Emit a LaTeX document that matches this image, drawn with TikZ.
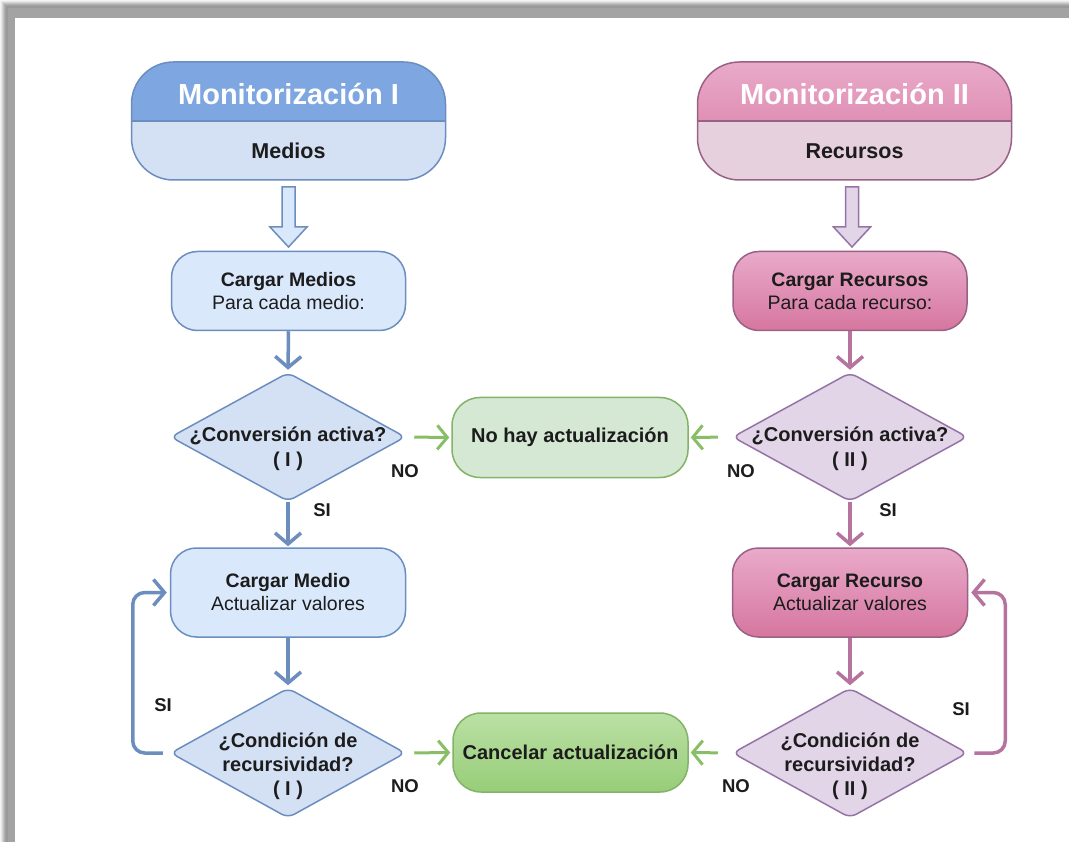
\documentclass[tikz,border=0pt]{standalone}
\usepackage{fontspec}
\setmainfont{Liberation Sans}
\usetikzlibrary{arrows.meta,shapes.geometric,calc}
\definecolor{bBorder}{HTML}{6C8EBF}
\definecolor{bFill}{HTML}{DAE8FC}
\definecolor{bDia}{HTML}{D4E1F5}
\definecolor{bTop}{HTML}{7EA6E0}
\definecolor{bArrow}{HTML}{6C8EBF}
\definecolor{pBorder}{HTML}{996185}
\definecolor{pTopA}{HTML}{E9AACA}
\definecolor{pTopB}{HTML}{D6769F}
\definecolor{pBot}{HTML}{E6D0DE}
\definecolor{vFill}{HTML}{E1D5E7}
\definecolor{vBorder}{HTML}{9673A6}
\definecolor{pArrow}{HTML}{B5739D}
\definecolor{gBorder}{HTML}{82B366}
\definecolor{gFill}{HTML}{D5E8D4}
\definecolor{gTopA}{HTML}{BBE0A5}
\definecolor{gTopB}{HTML}{97CD78}
\definecolor{gArrow}{HTML}{88BF66}
\definecolor{txt}{HTML}{1C1C1C}
\begin{document}
\begin{tikzpicture}[x=1pt,y=-1pt,
  every node/.style={text=txt},
  hdr/.style={draw, line width=1.5pt, rounded corners=42pt, minimum width=314pt, minimum height=118pt, inner sep=0pt},
  boxstyle/.style={draw, line width=1.5pt, rounded corners=26pt, minimum width=234pt, minimum height=79pt, inner sep=0pt, align=center, font=\fontsize{19.5}{23}\selectfont},
  diastyle/.style={diamond, draw, line width=1.5pt, rounded corners=7pt, inner sep=0pt, minimum width=235pt, minimum height=129pt},
  diatext/.style={align=center, font=\fontsize{20}{25}\selectfont\bfseries},
  lbl/.style={font=\fontsize{18.5}{22}\selectfont\bfseries},
  titletext/.style={text=white, font=\fontsize{29}{34}\selectfont\bfseries},
  subtext/.style={font=\fontsize{21.5}{26}\selectfont\bfseries},
  arrB/.style={draw=bArrow, line width=3.5pt, -{Straight Barb[length=11pt,width=26pt]}},
  arrP/.style={draw=pArrow, line width=3.5pt, -{Straight Barb[length=11pt,width=26pt]}},
  arrG/.style={draw=gArrow, line width=3pt, -{Straight Barb[length=10pt,width=24pt]}},
  blk/.style={line width=1.5pt, line join=miter}
]
\useasboundingbox (0,0) rectangle (1069,842);
% frame
\fill[white] (0,0) rectangle (1069,842);
\foreach \i/\c in {0/4,1/9,2/16,3/24,4/31,5/36}{\fill[black!\c] (\i,\i) rectangle (1069,842);}
\fill[black!40] (6,6) rectangle (1069,842);
\fill[black!36] (8,8) rectangle (1069,842);
\fill[white] (15,18) rectangle (1069,842);

% headers
\node[hdr, draw=bBorder, fill=bDia,
  path picture={\fill[bTop, sharp corners] (path picture bounding box.north west) rectangle (path picture bounding box.east);}]
  (h1) at (288.5,121) {};
\draw[bBorder, line width=1.5pt] (h1.west) -- (h1.east);
\node[titletext] (t1) at (288.5,94) {Monitorización I};
\node[subtext] (s1) at (288.5,151) {Medios};

\node[hdr, draw=pBorder, fill=pBot,
  path picture={\shade[top color=pTopA, bottom color=pTopB, sharp corners] (path picture bounding box.north west) rectangle (path picture bounding box.east);}]
  (h2) at (854.5,121) {};
\draw[pBorder, line width=1.5pt] (h2.west) -- (h2.east);
\node[titletext] (t2) at (854.5,94) {Monitorización II};
\node[subtext] (s2) at (854.5,151) {Recursos};

% block arrows
\draw[blk, draw=bBorder, fill=bFill] (282,187) -- (295,187) -- (295,227) -- (307,227) -- (288.5,247) -- (270,227) -- (282,227) -- cycle;
\draw[blk, draw=vBorder, fill=vFill] (845.5,187) -- (858.5,187) -- (858.5,227) -- (870.5,227) -- (852,247) -- (833.5,227) -- (845.5,227) -- cycle;

% boxes
\node[boxstyle, draw=bBorder, fill=bFill] (b1) at (288.5,291) {\textbf{Cargar Medios}\\Para cada medio:};
\node[boxstyle, draw=pBorder, top color=pTopA, bottom color=pTopB] (b2) at (850,291) {\textbf{Cargar Recursos}\\Para cada recurso:};

\node[diastyle, draw=bBorder, fill=bDia] (d1) at (288,437) {};
\node[diatext] (dt1) at (288,449) {¿Conversión activa?\\( I )};
\node[diastyle, draw=vBorder, fill=vFill] (d2) at (850,437) {};
\node[diatext] (dt2) at (850,449) {¿Conversión activa?\\( II )};

\node[boxstyle, draw=gBorder, fill=gFill, minimum width=236pt, minimum height=80pt, rounded corners=28pt, font=\fontsize{20}{24}\selectfont\bfseries] (g1) at (570,437.5) {No hay actualización};

\node[boxstyle, draw=bBorder, fill=bFill, minimum height=89pt, minimum width=235pt] (b3) at (288,592.5) {\textbf{Cargar Medio}\\Actualizar valores};
\node[boxstyle, draw=pBorder, top color=pTopA, bottom color=pTopB, minimum height=89pt, minimum width=235pt] (b4) at (850,592.5) {\textbf{Cargar Recurso}\\Actualizar valores};

\node[diastyle, draw=bBorder, fill=bDia, minimum height=130pt] (d3) at (288,753) {};
\node[diatext, font=\fontsize{20}{24}\selectfont\bfseries] (dt3) at (288,766) {¿Condición de\\recursividad?\\( I )};
\node[diastyle, draw=vBorder, fill=vFill, minimum height=130pt] (d4) at (850,753) {};
\node[diatext, font=\fontsize{20}{24}\selectfont\bfseries] (dt4) at (850,766) {¿Condición de\\recursividad?\\( II )};

\node[boxstyle, draw=gBorder, top color=gTopA, bottom color=gTopB, minimum width=235pt, minimum height=79pt, rounded corners=28pt, font=\fontsize{20}{24}\selectfont\bfseries] (g2) at (570.5,752.5) {Cancelar actualización};

% connectors
\draw[arrB, shorten >=2pt] (b1.south) -- (d1.north);
\draw[arrB, shorten >=1pt] (d1.south) -- (b3.north);
\draw[arrB, shorten >=2pt] (b3.south) -- (d3.north);
\draw[arrP, shorten >=2pt] (b2.south) -- (d2.north);
\draw[arrP, shorten >=1pt] (d2.south) -- (b4.north);
\draw[arrP, shorten >=2pt] (b4.south) -- (d4.north);

\draw[arrG, shorten <=8pt, shorten >=2pt] (d1.east) -- (g1.west);
\draw[arrG, shorten <=14pt, shorten >=2pt] (d2.west) -- (g1.east);
\draw[arrG, shorten <=8pt, shorten >=2pt] (d3.east) -- (g2.west);
\draw[arrG, shorten <=14pt, shorten >=2pt] (d4.west) -- (g2.east);

\coordinate (lpL) at ([xshift=-37pt]b3.west);
\coordinate (lpR) at ([xshift=37pt]b4.east);
\draw[arrB, rounded corners=12pt, shorten <=7pt, shorten >=3pt] (d3.west) -| (lpL) -- (b3.west);
\draw[arrP, rounded corners=12pt, shorten <=6pt, shorten >=3pt] (d4.east) -| (lpR) -- (b4.east);

% labels
\node[lbl] (n1) at (405,471) {NO};
\node[lbl] (n2) at (741,471) {NO};
\node[lbl] (n3) at (405,786) {NO};
\node[lbl] (n4) at (736,786) {NO};
\node[lbl] (y1) at (322,510) {SI};
\node[lbl] (y2) at (888,510) {SI};
\node[lbl] (y3) at (163,705) {SI};
\node[lbl] (y4) at (961,709) {SI};
\end{tikzpicture}
\end{document}
